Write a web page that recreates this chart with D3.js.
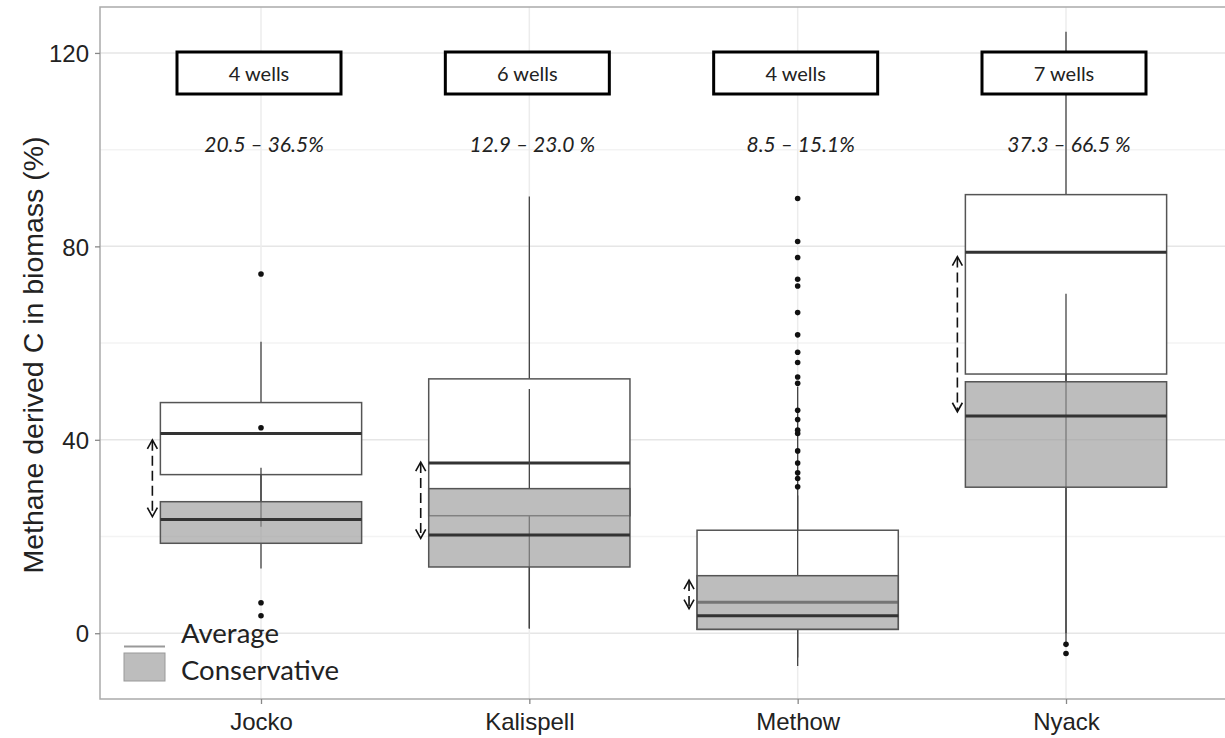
<!DOCTYPE html>
<html lang="en">
<head>
<meta charset="UTF-8">
<title>Methane derived C in biomass</title>
<script src="https://d3js.org/d3.v7.min.js"></script>
<style>
  body { margin: 0; background: #fff; }
  svg { display: block; }
</style>
</head>
<body>
<script>
    // data
    const sites = ["Jocko", "Kalispell", "Methow", "Nyack"];
    const wellLabels = ["4 wells", "6 wells", "4 wells", "7 wells"];
    const rangeLabels = ["20.5 – 36.5%", "12.9 – 23.0 %", "8.5 – 15.1%", "37.3 – 66.5 %"];
    const yTicks = [0, 40, 80, 120];
    const yMinor = [20, 60, 100];

    // "Average" boxplots
    const avgLow  = [22.0, 1.0, -6.8, -1.8];
    const avgQ1   = [32.8, 24.3, 0.8, 53.6];
    const avgMed  = [41.3, 35.2, 6.4, 78.8];
    const avgQ3   = [47.7, 52.6, 21.3, 90.7];
    const avgHigh = [60.3, 90.3, 51.0, 124.4];
    const avgOut  = [[74.3], [], [53.0, 56.0, 58.1, 61.7, 66.3, 71.8, 73.2, 77.7, 81.0, 89.9], []];

    // "Conservative" boxplots
    const consLow  = [13.4, 1.0, -5.0, 0.0];
    const consQ1   = [18.6, 13.7, 0.8, 30.2];
    const consMed  = [23.5, 20.3, 3.6, 44.9];
    const consQ3   = [27.2, 29.9, 11.9, 52.0];
    const consHigh = [34.2, 50.5, 28.5, 70.2];
    const consOut  = [[42.5, 6.3, 3.6], [], [30.3, 32.0, 33.2, 35.2, 37.7, 41.3, 42.0, 44.2, 46.1, 51.7], [-2.3, -4.2]];

    // dashed arrows (top, bottom)
    const arrowTop = [40.0, 35.4, 11.0, 77.9];
    const arrowBot = [24.1, 19.6, 5.1, 45.8];

    const width = 1225, height = 738;
    const panel = {left: 100, right: 1227, top: 7, bottom: 699};

    const svg = d3.select("body").append("svg")
        .attr("width", width)
        .attr("height", height);

    const x = d3.scalePoint()
        .domain(sites)
        .range([panel.left, panel.right])
        .padding(0.6);
    const y = d3.scaleLinear()
        .domain([-13.6, 129.5])
        .range([panel.bottom, panel.top]);
    const boxW = x.step() * 0.75;

    // grid
    const grid = svg.append("g");
    grid.selectAll(".minor").data(yMinor).join("line")
        .attr("x1", panel.left).attr("x2", panel.right)
        .attr("y1", d => y(d)).attr("y2", d => y(d))
        .style("stroke", "#f3f3f3").style("stroke-width", 1.5);
    grid.selectAll(".major").data(yTicks).join("line")
        .attr("x1", panel.left).attr("x2", panel.right)
        .attr("y1", d => y(d)).attr("y2", d => y(d))
        .style("stroke", "#e6e6e6").style("stroke-width", 1.5);
    grid.selectAll(".vert").data(sites).join("line")
        .attr("x1", d => x(d)).attr("x2", d => x(d))
        .attr("y1", panel.top).attr("y2", panel.bottom)
        .style("stroke", "#ececec").style("stroke-width", 1.5);

    // one boxplot layer
    function drawBoxes(low, q1, med, q3, high, outs, fill, opacity, stroke) {
        const g = svg.append("g");
        sites.forEach(function(s, i) {
            const cx = x(s);
            g.append("line")
                .attr("x1", cx).attr("x2", cx)
                .attr("y1", y(q3[i])).attr("y2", y(high[i]))
                .style("stroke", "#444").style("stroke-width", 1.3);
            g.append("line")
                .attr("x1", cx).attr("x2", cx)
                .attr("y1", y(q1[i])).attr("y2", y(low[i]))
                .style("stroke", "#444").style("stroke-width", 1.3);
            g.append("rect")
                .attr("x", cx - boxW / 2).attr("width", boxW)
                .attr("y", y(q3[i])).attr("height", y(q1[i]) - y(q3[i]))
                .style("fill", fill).style("fill-opacity", opacity)
                .style("stroke", stroke).style("stroke-width", 1.5);
            g.append("line")
                .attr("x1", cx - boxW / 2).attr("x2", cx + boxW / 2)
                .attr("y1", y(med[i])).attr("y2", y(med[i]))
                .style("stroke", "#333").style("stroke-width", 3);
            g.selectAll(null).data(outs[i]).join("circle")
                .attr("cx", cx).attr("cy", d => y(d)).attr("r", 2.8)
                .style("fill", "#111");
        });
    }
    drawBoxes(avgLow, avgQ1, avgMed, avgQ3, avgHigh, avgOut, "#ffffff", 1, "#555");
    drawBoxes(consLow, consQ1, consMed, consQ3, consHigh, consOut, "#999999", 0.65, "#555");

    // dashed arrows left of each box
    const arrows = svg.append("g");
    sites.forEach(function(s, i) {
        const ax = x(s) - boxW / 2 - 8;
        const t = y(arrowTop[i]), b = y(arrowBot[i]);
        arrows.append("line")
            .attr("x1", ax).attr("x2", ax).attr("y1", t + 1).attr("y2", b - 1)
            .style("stroke", "#111").style("stroke-width", 1.6)
            .style("stroke-dasharray", "10,5");
        arrows.append("path")
            .attr("d", `M${ax - 5},${t + 9}L${ax},${t}L${ax + 5},${t + 9}`)
            .style("fill", "none").style("stroke", "#111").style("stroke-width", 1.6);
        arrows.append("path")
            .attr("d", `M${ax - 5},${b - 9}L${ax},${b}L${ax + 5},${b - 9}`)
            .style("fill", "none").style("stroke", "#111").style("stroke-width", 1.6);
    });

    // well count boxes and ranges
    const notes = svg.append("g").style("font-family", "Lato, 'Open Sans', sans-serif");
    sites.forEach(function(s, i) {
        const cx = x(s) - 2;
        notes.append("rect")
            .attr("x", cx - 82).attr("y", 52).attr("width", 164).attr("height", 42)
            .style("fill", "#fff").style("stroke", "#000").style("stroke-width", 3);
        notes.append("text")
            .attr("x", cx).attr("y", 81)
            .attr("text-anchor", "middle")
            .style("font-size", "20px").style("fill", "#222")
            .text(wellLabels[i]);
        notes.append("text")
            .attr("x", x(s) + 3).attr("y", 152)
            .attr("text-anchor", "middle")
            .style("font-size", "21px").style("font-style", "italic").style("fill", "#222")
            .text(rangeLabels[i]);
    });

    // panel border
    svg.append("rect")
        .attr("x", panel.left).attr("y", panel.top)
        .attr("width", panel.right - panel.left).attr("height", panel.bottom - panel.top)
        .style("fill", "none").style("stroke", "#aaa").style("stroke-width", 1.5);

    // axes
    const yAxis = svg.append("g")
        .attr("transform", `translate(${panel.left},0)`)
        .call(d3.axisLeft(y).tickValues(yTicks).tickSize(5).tickPadding(6));
    const xAxis = svg.append("g")
        .attr("transform", `translate(0,${panel.bottom})`)
        .call(d3.axisBottom(x).tickSize(5).tickPadding(6));
    [yAxis, xAxis].forEach(function(a) {
        a.select(".domain").remove();
        a.selectAll(".tick line").style("stroke", "#888").style("stroke-width", 1.3);
        a.selectAll("text")
            .style("font-family", "'Liberation Sans', Arial, sans-serif")
            .style("font-size", "24px").style("fill", "#222");
    });
    yAxis.selectAll("text").attr("dy", "0.36em");
    xAxis.selectAll("text").attr("dy", "0.85em");

    svg.append("text")
        .attr("transform", "translate(43,355) rotate(-90)")
        .attr("text-anchor", "middle")
        .style("font-family", "'Liberation Sans', Arial, sans-serif")
        .style("font-size", "28.5px").style("fill", "#222")
        .text("Methane derived C in biomass (%)");

    // legend
    const legend = svg.append("g");
    legend.append("line")
        .attr("x1", 124).attr("x2", 165).attr("y1", 646.5).attr("y2", 646.5)
        .style("stroke", "#999").style("stroke-width", 2);
    legend.append("rect")
        .attr("x", 124).attr("y", 653).attr("width", 41).attr("height", 28)
        .style("fill", "#bdbdbd").style("stroke", "#999").style("stroke-width", 1);
    legend.selectAll("text").data(["Average", "Conservative"]).join("text")
        .attr("x", 181).attr("y", (d, i) => 643 + i * 37)
        .style("font-family", "Lato, 'Open Sans', sans-serif")
        .style("font-size", "27.5px").style("fill", "#222")
        .text(d => d);
</script>
</body>
</html>
